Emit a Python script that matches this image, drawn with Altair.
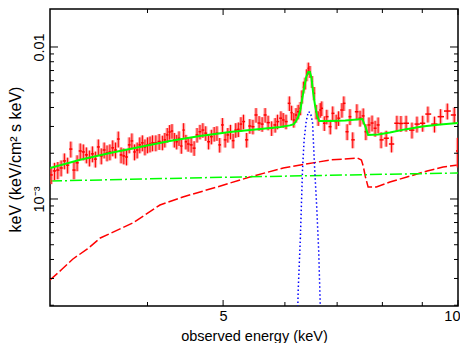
import altair as alt
import pandas as pd

# ---------------- data ----------------
energy = [
    3.01, 3.04, 3.07, 3.10, 3.13, 3.16, 3.19, 3.22, 3.25, 3.28, 3.31, 3.34, 3.37, 3.40, 3.43, 3.46, 3.49, 3.52, 3.55,
    3.58, 3.61, 3.64, 3.67, 3.70, 3.73, 3.76, 3.79, 3.82, 3.85, 3.88, 3.91, 3.94, 3.97, 4.00, 4.03, 4.06, 4.10, 4.14,
    4.18, 4.21, 4.24, 4.27, 4.30, 4.33, 4.36, 4.39, 4.42, 4.45, 4.48, 4.51, 4.55, 4.59, 4.63, 4.67, 4.71, 4.75, 4.79,
    4.83, 4.87, 4.91, 4.95, 4.99, 5.03, 5.07, 5.11, 5.15, 5.19, 5.23, 5.27, 5.31, 5.36, 5.41, 5.46, 5.51, 5.56, 5.61,
    5.66, 5.71,
    5.77, 5.83, 5.87, 5.93, 5.97, 6.02, 6.08, 6.12, 6.16, 6.20, 6.24, 6.28, 6.31, 6.34, 6.37, 6.40, 6.43, 6.46, 6.50,
    6.54, 6.58, 6.62, 6.66, 6.69, 6.74, 6.79, 6.86, 6.91, 6.98, 7.03, 7.10, 7.14, 7.21, 7.27, 7.33, 7.42,
    7.49, 7.56, 7.62, 7.69, 7.76, 7.83, 7.90, 7.97, 8.09, 8.22, 8.35, 8.45, 8.58, 8.73, 8.86, 9.01, 9.15, 9.33, 9.50,
    9.69, 9.89, 9.99,
]
# flux in units of 1e-3 keV (keV/cm^2 s keV)
flux_e3 = [
    1.44, 1.53, 1.55, 1.60, 1.78, 1.67, 2.13, 1.55, 1.73, 2.07, 2.04, 1.95, 1.86, 1.98, 1.83, 2.20, 1.92, 2.10, 2.01,
    2.04, 2.17, 2.10, 2.48, 1.95, 1.92, 1.89, 2.27, 2.41, 2.04, 2.10, 2.27, 2.34, 2.20, 2.27, 2.30, 2.34, 2.34, 2.39,
    2.35, 2.45, 2.64, 2.76, 2.80, 2.45, 2.38, 2.51, 2.23, 2.84, 2.38, 2.30, 2.27, 2.16, 2.64, 2.77, 2.84, 2.71, 2.38,
    2.57, 2.68, 2.71, 2.27, 3.07, 2.45, 2.64, 2.77, 2.42, 2.84, 2.87, 3.11, 3.23, 2.45, 3.02, 2.99, 3.57, 3.16, 3.11,
    3.57, 3.18,
    2.92, 3.07, 3.23, 3.40, 3.31, 3.23, 4.26, 3.70, 3.31, 3.57, 3.75, 3.95, 4.71, 5.43, 5.77, 6.54, 7.24, 6.88, 5.91,
    4.96, 3.75, 3.40, 3.85, 3.95, 3.15, 3.48, 2.99, 3.66, 3.23, 3.40, 3.85, 4.26, 2.77, 3.48, 2.45, 3.75,
    3.40, 3.52, 2.77, 3.07, 3.16, 2.92, 3.07, 2.45, 2.51, 2.30, 3.15, 3.14, 3.15, 2.84, 3.11, 3.15, 3.62, 3.11, 3.48,
    3.79, 3.57, 2.07,
]
# relative 1-sigma error of each point
flux_err = [
    0.13, 0.13, 0.13, 0.12, 0.12, 0.12, 0.12, 0.13, 0.12, 0.12, 0.12, 0.12, 0.12, 0.12, 0.12, 0.12, 0.12, 0.12, 0.12,
    0.12, 0.12, 0.12, 0.12, 0.12, 0.12, 0.12, 0.12, 0.12, 0.12, 0.12, 0.12, 0.12, 0.12, 0.12, 0.12, 0.12, 0.12, 0.12,
    0.11, 0.11, 0.11, 0.11, 0.11, 0.11, 0.11, 0.11, 0.11, 0.11, 0.11, 0.11, 0.11, 0.11, 0.11, 0.11, 0.11, 0.11, 0.11,
    0.11, 0.11, 0.11, 0.11, 0.11, 0.11, 0.11, 0.11, 0.11, 0.11, 0.11, 0.11, 0.11, 0.11, 0.11, 0.11, 0.11, 0.11, 0.11,
    0.11, 0.11,
    0.11, 0.11, 0.11, 0.11, 0.11, 0.11, 0.11, 0.11, 0.11, 0.11, 0.11, 0.10, 0.10, 0.09, 0.09, 0.09, 0.09, 0.09, 0.09,
    0.10, 0.11, 0.11, 0.11, 0.11, 0.11, 0.11, 0.11, 0.11, 0.11, 0.11, 0.11, 0.11, 0.12, 0.12, 0.12, 0.12,
    0.12, 0.12, 0.12, 0.12, 0.12, 0.12, 0.12, 0.12, 0.12, 0.12, 0.12, 0.12, 0.12, 0.12, 0.12, 0.12, 0.12, 0.12, 0.12,
    0.12, 0.12, 0.22,
]

# total model (green solid)
model_e = [3.00, 3.28, 3.58, 3.91, 4.27, 4.67, 5.10, 5.58, 5.92, 6.09, 6.16, 6.20, 6.24, 6.28, 6.31, 6.35, 6.39,
           6.43, 6.46, 6.49, 6.52, 6.56, 6.60, 6.64, 6.86, 7.17, 7.54, 7.61, 7.67, 7.90, 8.18, 8.55, 9.00, 9.49, 10.0]
model_f = [1.60, 1.81, 2.01, 2.20, 2.41, 2.60, 2.76, 2.89, 2.98, 3.05, 3.11, 3.26, 3.46, 3.85, 4.48, 5.37, 6.35,
           6.85, 6.85, 6.25, 5.06, 4.09, 3.52, 3.26, 3.26, 3.28, 3.36, 2.98, 2.64, 2.66, 2.74, 2.87, 3.00, 3.09, 3.16]

# power-law component (green dash-dot)
pl_e = [3.0, 5.0, 10.0]
pl_f = [1.313, 1.39, 1.483]

# reflection component with edge (red dashed)
refl_e = [3.00, 3.11, 3.21, 3.35, 3.48, 3.83, 4.15, 4.44, 4.91, 5.41, 5.97, 6.28, 6.86, 7.43, 7.52, 7.56, 7.61,
          7.67, 7.86, 8.18, 8.60, 9.13, 9.57, 10.0]
refl_f = [0.293, 0.346, 0.403, 0.469, 0.554, 0.695, 0.913, 1.031, 1.199, 1.395, 1.599, 1.674, 1.806, 1.861, 1.806,
          1.649, 1.395, 1.199, 1.199, 1.294, 1.395, 1.528, 1.624, 1.674]

# Gaussian iron line (blue dotted)
line_e = [6.15, 6.24, 6.28, 6.32, 6.35, 6.39, 6.43, 6.47, 6.51, 6.55, 6.59, 6.63, 6.66, 6.72]
line_f = [0.01, 0.25, 0.55, 1.55, 2.45, 3.25, 3.75, 3.70, 3.20, 1.60, 0.90, 0.45, 0.20, 0.01]

# tick positions
x_major = [5, 10]
x_minor = [4, 6, 7, 8, 9]
y_major = [0.001, 0.01]
y_minor = [2e-4, 3e-4, 4e-4, 5e-4, 6e-4, 7e-4, 8e-4, 9e-4,
           2e-3, 3e-3, 4e-3, 5e-3, 6e-3, 7e-3, 8e-3, 9e-3]

# ---------------- build tables ----------------
n = len(energy)
e_lo, e_hi = [], []
for i in range(n):
    left = (energy[i - 1] + energy[i]) / 2 if i > 0 else energy[0] - (energy[1] - energy[0]) / 2
    right = (energy[i] + energy[i + 1]) / 2 if i < n - 1 else energy[i] + (energy[i] - energy[i - 1]) / 2
    e_lo.append(left)
    e_hi.append(right)

data = pd.DataFrame({
    "E": energy, "Elo": e_lo, "Ehi": e_hi,
    "F": [f * 1e-3 for f in flux_e3],
    "Flo": [f * 1e-3 * (1 - r) for f, r in zip(flux_e3, flux_err)],
    "Fhi": [f * 1e-3 * (1 + r) for f, r in zip(flux_e3, flux_err)],
})
model = pd.DataFrame({"E": model_e, "F": [f * 1e-3 for f in model_f]})
pl = pd.DataFrame({"E": pl_e, "F": [f * 1e-3 for f in pl_f]})
refl = pd.DataFrame({"E": refl_e, "F": [f * 1e-3 for f in refl_f]})
gline = pd.DataFrame({"E": line_e, "F": [f * 1e-3 for f in line_f]})

W, H = 408, 297
xs = alt.Scale(type="log", domain=[3.0, 10.0], nice=False)
ys = alt.Scale(type="log", domain=[1.977e-4, 0.01778], nice=False)

xaxis = alt.Axis(values=x_major, title="observed energy (keV)", labelFlush=True, labelFlushOffset=2,
                 labelPadding=3, titleBaseline="alphabetic", titleY=34, tickSize=0)
yaxis = alt.Axis(values=y_major, title="keV (keV/cm² s keV)",
                 labelExpr="datum.value > 0.005 ? '0.01' : '10⁻³'",
                 labelAngle=270, labelAlign="center", labelBaseline="alphabetic", labelPadding=7,
                 titleAngle=270, titleAlign="center", titleBaseline="alphabetic", titleFontSize=16,
                 titleX=-30, titleY=150, tickSize=0)


def X(field):
    return alt.X(field, type="quantitative", scale=xs, axis=xaxis)


def Y(field):
    return alt.Y(field, type="quantitative", scale=ys, axis=yaxis)


halo = alt.Chart(data).mark_rule(color="#ff6a6a", strokeWidth=3.5, opacity=0.55, clip=True).encode(
    x=X("E"), y=Y("Flo"), y2="Fhi")
vbar = alt.Chart(data).mark_rule(color="#ff0000", strokeWidth=1, clip=True).encode(
    x=X("E"), y=Y("Flo"), y2="Fhi")
hbar = alt.Chart(data).mark_rule(color="#ff0000", strokeWidth=1.5, clip=True).encode(
    x=X("Elo"), x2="Ehi", y=Y("F"))

model_line = alt.Chart(model).mark_line(color="#00ff00", strokeWidth=2, clip=True).encode(x=X("E"), y=Y("F"))
pl_line = alt.Chart(pl).mark_line(color="#00ff00", strokeWidth=1.5, strokeDash=[12, 3, 2, 3], clip=True).encode(
    x=X("E"), y=Y("F"))
refl_line = alt.Chart(refl).mark_line(color="#ff0000", strokeWidth=1.5, strokeDash=[10, 3], clip=True).encode(
    x=X("E"), y=Y("F"))
g_line = alt.Chart(gline).mark_line(color="#0000ff", strokeWidth=1.5, strokeDash=[1.5, 2.5], clip=True).encode(
    x=X("E"), y=Y("F"))

# inward ticks on all four sides
xmaj = pd.DataFrame({"v": x_major})
xmin = pd.DataFrame({"v": x_minor})
ymaj = pd.DataFrame({"v": y_major})
ymin = pd.DataFrame({"v": y_minor})

tick_layers = []
for df, ln in ((xmaj, 6), (xmin, 4)):
    tick_layers.append(alt.Chart(df).mark_rule(color="black", strokeWidth=1).encode(
        x=X("v"), y=alt.value(H), y2=alt.value(H - ln)))
    tick_layers.append(alt.Chart(df).mark_rule(color="black", strokeWidth=1).encode(
        x=X("v"), y=alt.value(0), y2=alt.value(ln)))
for df, ln in ((ymaj, 8), (ymin, 4)):
    tick_layers.append(alt.Chart(df).mark_rule(color="black", strokeWidth=1, clip=True).encode(
        y=Y("v"), x=alt.value(0), x2=alt.value(ln)))
    tick_layers.append(alt.Chart(df).mark_rule(color="black", strokeWidth=1, clip=True).encode(
        y=Y("v"), x=alt.value(W), x2=alt.value(W - ln)))

chart = alt.layer(
    refl_line, pl_line, g_line, halo, vbar, hbar, model_line, *tick_layers
).properties(
    width=W, height=H,
    autosize=alt.AutoSizeParams(type="none"),
    padding={"left": 42, "top": 1, "right": 2, "bottom": 45},
).configure_view(
    stroke="black", strokeWidth=1.5
).configure_axis(
    labelFont="Liberation Sans", titleFont="Liberation Sans",
    labelFontSize=14.5, titleFontSize=14.5,
    labelColor="black", titleColor="black", titleFontWeight="normal",
    grid=False, domain=False, ticks=False,
)

chart.save("out.html", embed_options={"renderer": "svg", "actions": False})
